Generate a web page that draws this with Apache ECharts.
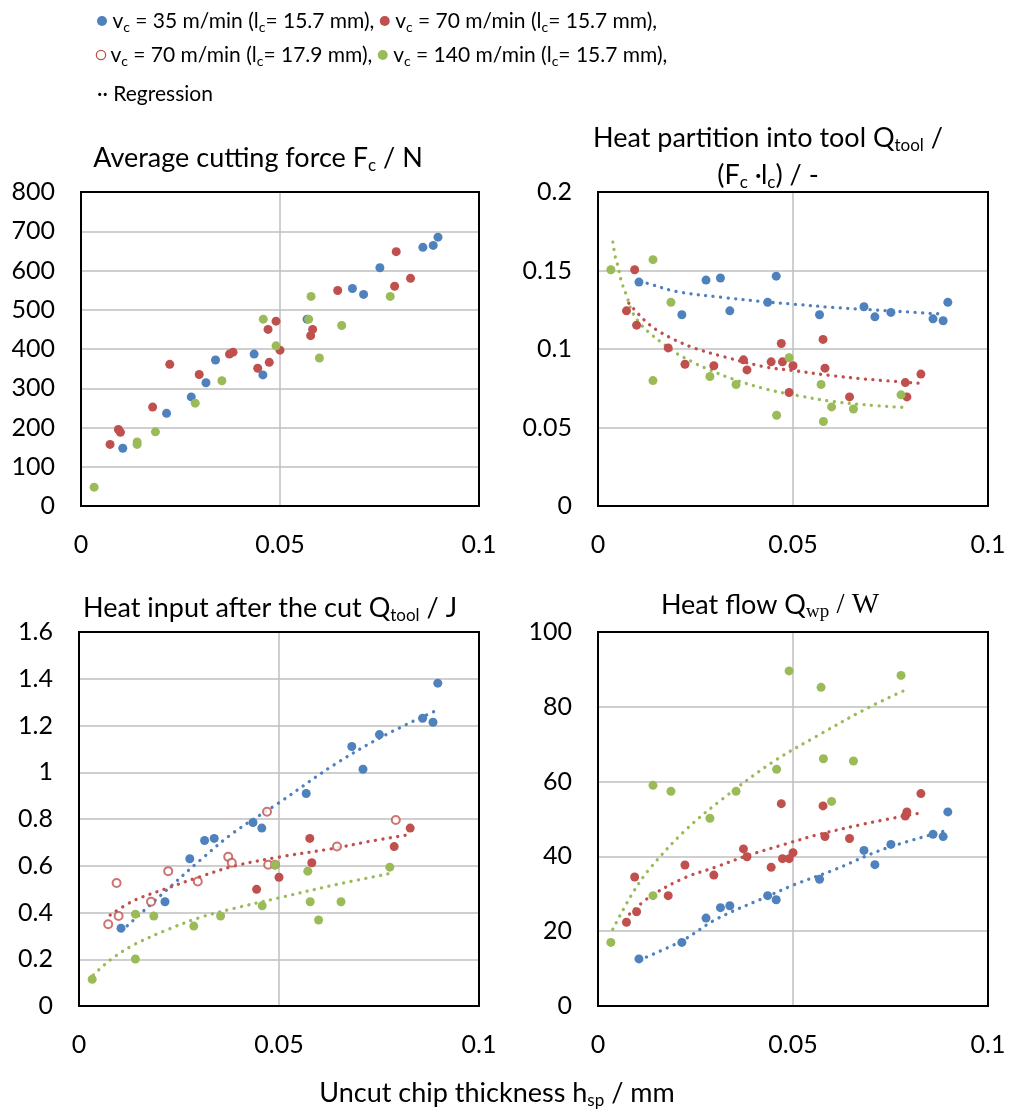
<!DOCTYPE html>
<html>
<head>
<meta charset="utf-8">
<title>Cutting force and heat</title>
<style>
    html, body { margin: 0; padding: 0; background: #fff; }
    #main { width: 1011px; height: 1113px; }
</style>
</head>
<body>
<div id="main"></div>
<script src="https://cdn.jsdelivr.net/npm/echarts@6/dist/echarts.min.js"></script>
<script type="text/javascript">
    var FONT = 'Lato';
    var colBlue = '#4F81BD', colRed = '#C0504D', colGreen = '#9BBB59';

    // uncut chip thickness h_sp / mm
    var hBlue = [0.0105, 0.0215, 0.0277, 0.0314, 0.0338, 0.0435, 0.0457, 0.0568, 0.0682, 0.0710, 0.0751, 0.0859, 0.0885, 0.0897];
    var hRed = [0.0073, 0.0094, 0.0099, 0.0180, 0.0223, 0.0297, 0.0373, 0.0382, 0.0444, 0.0470, 0.0473, 0.0490, 0.0500, 0.0577, 0.0582, 0.0645, 0.0788, 0.0792, 0.0828];
    var lcRed = [17.9, 17.9, 17.9, 17.9, 17.9, 17.9, 17.9, 17.9, 15.7, 17.9, 17.9, 17.9, 15.7, 15.7, 15.7, 17.9, 15.7, 17.9, 15.7];
    var hGreen = [0.0033, 0.0141, 0.0141, 0.0187, 0.0287, 0.0354, 0.0458, 0.0490, 0.0572, 0.0578, 0.0599, 0.0655, 0.0777];

    // average cutting force Fc / N
    var fcBlue = [147, 236, 278, 314, 372, 387, 334, 476, 554, 539, 607, 659, 664, 685];
    var fcRed = [157, 195, 188, 252, 361, 335, 387, 392, 351, 450, 366, 471, 397, 434, 450, 549, 560, 648, 580];
    var fcGreen = [48, 163, 157, 189, 262, 319, 476, 408, 476, 534, 377, 460, 534];

    // heat partition into tool
    var partBlue = [0.1426, 0.1218, 0.1439, 0.1452, 0.1243, 0.1297, 0.1464, 0.1218, 0.1269, 0.1205, 0.1233, 0.1192, 0.1180, 0.1297];
    var partRed = [0.1243, 0.1505, 0.1152, 0.1007, 0.0903, 0.0893, 0.0931, 0.0867, 0.0918, 0.1035, 0.0918, 0.0723, 0.0893, 0.1061, 0.0878, 0.0695, 0.0786, 0.0695, 0.0840];
    var partGreen = [0.1505, 0.1569, 0.0799, 0.1297, 0.0825, 0.0774, 0.0578, 0.0944, 0.0774, 0.0538, 0.0631, 0.0618, 0.0708];

    // heat input after the cut Q_tool / J
    var qToolBlue = [0.333, 0.446, 0.630, 0.708, 0.717, 0.785, 0.761, 0.909, 1.110, 1.013, 1.161, 1.231, 1.214, 1.381];
    var qToolRed = [0.350, 0.526, 0.385, 0.446, 0.577, 0.533, 0.638, 0.613, 0.499, 0.831, 0.604, 0.604, 0.551, 0.717, 0.613, 0.682, 0.682, 0.796, 0.761];
    var qToolGreen = [0.114, 0.393, 0.201, 0.385, 0.342, 0.385, 0.429, 0.604, 0.577, 0.446, 0.368, 0.446, 0.594];

    // heat flow Q_wp / W
    var qWpBlue = [12.6, 17.0, 23.5, 26.3, 26.8, 29.5, 28.4, 33.9, 41.6, 37.8, 43.2, 45.9, 45.3, 51.9];
    var qWpRed = [22.4, 34.5, 25.2, 29.5, 37.7, 35.0, 42.0, 39.9, 37.1, 54.1, 39.4, 39.4, 41.0, 53.5, 45.3, 44.8, 50.8, 51.9, 56.8];
    var qWpGreen = [17.0, 59.0, 29.5, 57.4, 50.2, 57.4, 63.3, 89.6, 85.2, 66.1, 54.7, 65.5, 88.4];

    // regression curves, points
    var regPartBlue = [[0.0107, 0.1426], [0.0124, 0.1420], [0.0201, 0.1366], [0.0321, 0.1328], [0.0432, 0.1300], [0.0500, 0.1286], [0.0603, 0.1265], [0.0774, 0.1239], [0.0887, 0.1222]];
    var regPartRed = [[0.0079, 0.1292], [0.0118, 0.1186], [0.0150, 0.1122], [0.0197, 0.1058], [0.0248, 0.1005], [0.0321, 0.0952], [0.0432, 0.0884], [0.0500, 0.0863], [0.0603, 0.0829], [0.0688, 0.0808], [0.0826, 0.0782]];
    var regPartGreen = [[0.0038, 0.1681], [0.0045, 0.1579], [0.0051, 0.1530], [0.0060, 0.1430], [0.0074, 0.1334], [0.0086, 0.1245], [0.0107, 0.1165], [0.0133, 0.1101], [0.0171, 0.1026], [0.0201, 0.0973], [0.0248, 0.0910], [0.0282, 0.0871], [0.0346, 0.0808], [0.0432, 0.0744], [0.0517, 0.0701], [0.0603, 0.0665], [0.0688, 0.0644], [0.0779, 0.0629]];
    var regToolBlue = [[0.0107, 0.322], [0.0219, 0.496], [0.0303, 0.624], [0.0386, 0.741], [0.0503, 0.873], [0.0636, 1.030], [0.0761, 1.155], [0.0894, 1.265]];
    var regToolRed = [[0.0078, 0.389], [0.0136, 0.450], [0.0219, 0.503], [0.0303, 0.553], [0.0386, 0.598], [0.0503, 0.638], [0.0636, 0.674], [0.0719, 0.702], [0.0818, 0.731]];
    var regToolGreen = [[0.0036, 0.133], [0.0078, 0.197], [0.0136, 0.261], [0.0219, 0.325], [0.0303, 0.379], [0.0386, 0.417], [0.0503, 0.464], [0.0636, 0.517], [0.0777, 0.567]];
    var regWpBlue = [[0.0107, 12.3], [0.0218, 17.6], [0.0303, 23.2], [0.0432, 29.2], [0.0500, 32.3], [0.0603, 36.3], [0.0731, 41.9], [0.0889, 46.8]];
    var regWpRed = [[0.0081, 24.6], [0.0133, 29.2], [0.0218, 34.1], [0.0303, 37.2], [0.0380, 40.1], [0.0487, 43.5], [0.0560, 45.7], [0.0688, 48.8], [0.0826, 51.6]];
    var regWpGreen = [[0.0038, 20.5], [0.0086, 29.7], [0.0131, 36.5], [0.0222, 46.8], [0.0321, 55.5], [0.0449, 65.3], [0.0560, 72.1], [0.0688, 79.5], [0.0782, 84.2]];

    // axis ranges per panel
    var yMax = [800, 0.2, 1.6, 100];
    var yStep = [100, 0.05, 0.2, 20];

    function pts(xs, ys, keep) {
        var out = [];
        for (var i = 0; i < xs.length; i++) {
            if (!keep || keep(i)) out.push([xs[i], ys[i]]);
        }
        return out;
    }

    var myChart = echarts.init(document.getElementById('main'));

    var grids = [
        { left: 81, top: 192, width: 398, height: 314 },
        { left: 598, top: 192, width: 390, height: 314 },
        { left: 79, top: 632, width: 400, height: 374 },
        { left: 598, top: 632, width: 390, height: 374 }
    ];
    grids.forEach(function (g) {
        g.show = true;
        g.z = 10;
        g.backgroundColor = 'transparent';
        g.borderColor = '#000';
        g.borderWidth = 2;
        g.containLabel = false;
        g.outerBoundsMode = 'none';
    });

    var gridLine = { show: true, lineStyle: { color: '#BFBFBF', width: 1.5 } };

    var xAxes = [], yAxes = [];
    for (var k = 0; k < 4; k++) {
        xAxes.push({
            type: 'value', gridIndex: k, min: 0, max: 0.1, interval: 0.05,
            axisLine: { show: false }, axisTick: { show: false },
            axisLabel: { margin: 26, fontFamily: FONT, fontSize: 25, color: '#000' },
            splitLine: gridLine
        });
        yAxes.push({
            type: 'value', gridIndex: k, min: 0, max: yMax[k], interval: yStep[k],
            axisLine: { show: false }, axisTick: { show: false },
            axisLabel: { margin: 26, fontFamily: FONT, fontSize: 25, color: '#000' },
            splitLine: gridLine
        });
    }

    function scatter(k, color, data, empty) {
        return {
            type: 'scatter', xAxisIndex: k, yAxisIndex: k, data: data,
            symbol: empty ? 'emptyCircle' : 'circle', symbolSize: empty ? 8 : 9,
            itemStyle: empty ? { color: colRed, borderColor: colRed, borderWidth: 1.3 } : { color: color, opacity: 1 },
            z: 3, silent: true
        };
    }
    function regression(k, color, data) {
        return {
            type: 'line', xAxisIndex: k, yAxisIndex: k, data: data,
            showSymbol: false, smooth: 0.35, silent: true, z: 2,
            lineStyle: { color: color, width: 3.3, type: [0.1, 7.4], cap: 'round' }
        };
    }

    var series = [
        scatter(0, colBlue, pts(hBlue, fcBlue)),
        scatter(0, colRed, pts(hRed, fcRed)),
        scatter(0, colGreen, pts(hGreen, fcGreen)),

        regression(1, colBlue, regPartBlue),
        regression(1, colRed, regPartRed),
        regression(1, colGreen, regPartGreen),
        scatter(1, colBlue, pts(hBlue, partBlue)),
        scatter(1, colRed, pts(hRed, partRed)),
        scatter(1, colGreen, pts(hGreen, partGreen)),

        regression(2, colBlue, regToolBlue),
        regression(2, colRed, regToolRed),
        regression(2, colGreen, regToolGreen),
        scatter(2, colBlue, pts(hBlue, qToolBlue)),
        scatter(2, colRed, pts(hRed, qToolRed, function (i) { return lcRed[i] === 15.7; })),
        scatter(2, colRed, pts(hRed, qToolRed, function (i) { return lcRed[i] !== 15.7; }), true),
        scatter(2, colGreen, pts(hGreen, qToolGreen)),

        regression(3, colBlue, regWpBlue),
        regression(3, colRed, regWpRed),
        regression(3, colGreen, regWpGreen),
        scatter(3, colBlue, pts(hBlue, qWpBlue)),
        scatter(3, colRed, pts(hRed, qWpRed)),
        scatter(3, colGreen, pts(hGreen, qWpGreen))
    ];

    // rich text styles for titles and legend (subscripts)
    var rich = {
        t: { fontFamily: FONT, fontSize: 27, fill: '#000', verticalAlign: 'middle' },
        s: { fontFamily: FONT, fontSize: 17, fill: '#000', padding: [15, 0, 0, 0], verticalAlign: 'middle' },
        ts: { fontFamily: 'Liberation Serif', fontSize: 29, fill: '#000', verticalAlign: 'middle' },
        ss: { fontFamily: 'Liberation Serif', fontSize: 19, fill: '#000', padding: [15, 0, 0, 0], verticalAlign: 'middle' },
        lt: { fontFamily: FONT, fontSize: 21, fill: '#000', verticalAlign: 'middle' },
        ls: { fontFamily: FONT, fontSize: 14, fill: '#000', padding: [13, 0, 0, 0], verticalAlign: 'middle' },
        mb: { width: 10, height: 10, borderRadius: 5, backgroundColor: colBlue, verticalAlign: 'middle' },
        mr: { width: 10, height: 10, borderRadius: 5, backgroundColor: colRed, verticalAlign: 'middle' },
        mg: { width: 10, height: 10, borderRadius: 5, backgroundColor: colGreen, verticalAlign: 'middle' },
        mo: { width: 8, height: 8, borderRadius: 5, borderColor: colRed, borderWidth: 1.3, backgroundColor: '#fff', verticalAlign: 'middle' }
    };

    function label(x, y, text, align, size) {
        return {
            type: 'text', x: x, y: y, silent: true,
            style: {
                text: text, rich: rich, align: align || 'center', verticalAlign: 'middle',
                fontFamily: FONT, fontSize: size || 27, fill: '#000'
            }
        };
    }

    var graphics = [
        label(97, 21, '{mb| } {lt|v}{ls|c}{lt| = 35 m/min (l}{ls|c}{lt|= 15.7 mm), }{mr| } {lt|v}{ls|c}{lt| = 70 m/min (l}{ls|c}{lt|= 15.7 mm),}', 'left', 21),
        label(97, 55, '{mo| } {lt|v}{ls|c}{lt| = 70 m/min (l}{ls|c}{lt|= 17.9 mm), }{mg| } {lt|v}{ls|c}{lt| = 140 m/min (l}{ls|c}{lt|= 15.7 mm),}', 'left', 21),
        label(97, 94, '{lt|·· Regression}', 'left', 21),

        label(258, 158, '{t|Average cutting force F}{s|c}{t| / N}'),
        label(768, 138, '{t|Heat partition into tool Q}{s|tool}{t| /}'),
        label(768, 175, '{t|(F}{s|c}{t| ·l}{s|c}{t|) / -}'),
        label(270, 608, '{t|Heat input after the cut Q}{s|tool}{t| / J}'),
        label(770, 605, '{t|Heat flow Q}{ss|wp}{ts| / W}'),

        label(497, 1093, '{t|Uncut chip thickness h}{s|sp}{t| / mm}')
    ];

    myChart.setOption({
        backgroundColor: '#fff',
        animation: false,
        grid: grids,
        xAxis: xAxes,
        yAxis: yAxes,
        series: series,
        graphic: graphics
    });
</script>
</body>
</html>
